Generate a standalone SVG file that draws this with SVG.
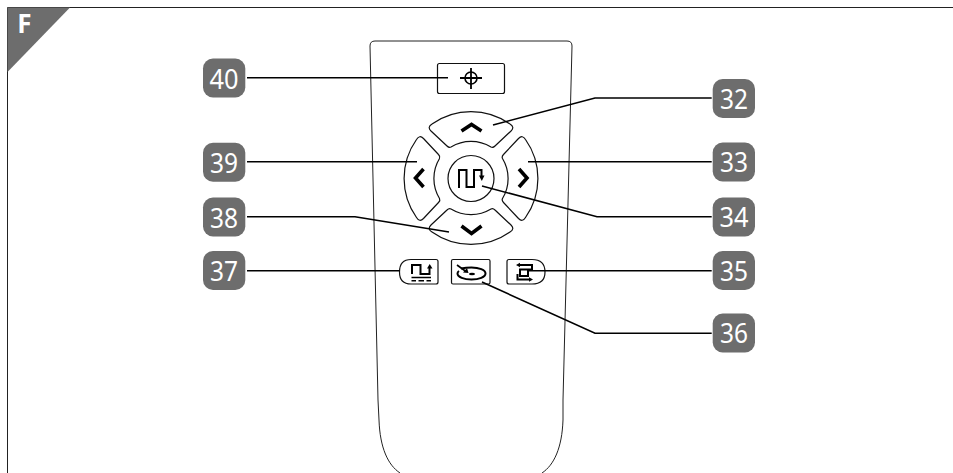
<svg xmlns="http://www.w3.org/2000/svg" width="953" height="473" viewBox="0 0 953 473">
<style>
.o{fill:none;stroke:#222;stroke-width:1}
.k{fill:none;stroke:#111;stroke-width:1.2}
.c{fill:none;stroke:#000;stroke-width:3.600;stroke-linejoin:miter}
.i{fill:none;stroke:#000;stroke-width:2}
.l{fill:none;stroke:#000;stroke-width:1.600}
.b{fill:#6d6d6d}
.t{fill:#fff;font-family:"Noto Sans","Open Sans",sans-serif;font-size:28px;font-weight:400;text-anchor:middle}
</style>
<defs>
<path id="key" d="M432 124A67.500 67.500 0 0 1 510 124Q515 127 511 131L495 146Q493 148 491 147A38.500 38.500 0 0 0 451 147Q449 148 447 146L431 131Q427 127 432 124Z" class="k"/>
</defs>
<rect width="953" height="473" fill="#fff"/>
<g id="frame">
<path d="M7.500 473V7.500H953" class="o"/>
<path d="M7.500 7.500H70L7.500 72Z" class="b"/>
<text x="24.500" y="33" font-family="Noto Sans,sans-serif" font-size="26" font-weight="700" fill="#fff" text-anchor="middle">F</text>
</g>
<g id="remote">
<path d="M370 46Q370 41 375 41H567Q572 41 572 46L563 400V420C562 448 554 465 542 473M400 473C388 465 380 448 379 420L378 400L370 46" class="o"/>
</g>
<g id="btn-crosshair">
<rect x="437.500" y="63.500" width="67" height="30" rx="2" class="k"/>
<circle cx="471" cy="78" r="6" class="i" style="stroke-width:1.600"/>
<path d="M460 78H482M471 68V89" class="i" style="stroke-width:1.800"/>
</g>
<g id="btn-up">
<use href="#key"/>
<path d="M461.500 131L471.500 124.500L481.500 131" class="c"/>
</g>
<g id="btn-down">
<use href="#key" transform="rotate(180 471 178)"/>
<path d="M461.500 226L471.500 233.500L481.500 226" class="c"/>
</g>
<g id="btn-left">
<use href="#key" transform="rotate(-90 471 178.500)"/>
<path d="M423.500 169L415.500 178L423.500 187" class="c"/>
</g>
<g id="btn-right">
<use href="#key" transform="rotate(90 471 178.500)"/>
<path d="M519 169L527 178L519 187" class="c"/>
</g>
<g id="btn-center">
<circle cx="471" cy="178.500" r="23" class="k"/>
<path d="M459 188V170H466.500V187H474V170H481.500V178" class="i"/>
<path d="M479 175.500H484.500L481.800 181Z" fill="#000"/>
</g>
<g id="btn-37">
<path d="M411 259.500H436Q438 259.500 438 261.500V282Q438 284 436 284H411Q399.500 284 399.500 272Q399.500 259.500 411 259.500Z" class="k"/>
<path d="M412 274V265H420.500V274H429.500V267" class="i"/>
<path d="M427 268.500H432.500L429.700 264Z" fill="#000"/>
<path d="M411.500 277.500H431M411.500 280.800H416M418.500 280.800H424M426.500 280.800H431" class="i" style="stroke-width:1.600"/>
</g>
<g id="btn-36">
<rect x="451.500" y="259.500" width="38.500" height="24.500" rx="1.500" class="k"/>
<path d="M461 268.500Q466 267.500 471.500 267.500C479 267.500 485.500 270 485.500 273.500C485.500 277 479 279.500 471.500 279.500C464 279.500 457.500 277 457.500 273.500Q457.500 272 459 271" class="i"/>
<ellipse cx="472" cy="274" rx="3" ry="1.300" fill="#000"/>
<path d="M457 265L466 271.500" class="i" style="stroke-width:1.600"/>
<path d="M463 272.500L468.500 273L467 268Z" fill="#000"/>
</g>
<g id="btn-35">
<path d="M509 259.500H532Q545 259.500 545 272Q545 284 532 284H509Q507 284 507 282V261.500Q507 259.500 509 259.500Z" class="k"/>
<path d="M519 265H532V269.500H520V276H528V269.500M517.500 274V279.500H530" class="i"/>
<path d="M520 262.800V267.200L516 265ZM529 277.300V281.700L533 279.500Z" fill="#000"/>
</g>
<g id="connectors">
<path d="M247 77.700H448" class="l"/>
<path d="M711.700 98H595L493 125" class="l"/>
<path d="M247 161.700H417" class="l"/>
<path d="M528 161.700H711.700" class="l"/>
<path d="M711.700 216.700H597L482 186" class="l"/>
<path d="M247 216.700H355L449 232" class="l"/>
<path d="M247 270.700H399.500" class="l"/>
<path d="M528 270.700H711.700" class="l"/>
<path d="M711.700 333.300H595L482 282" class="l"/>
</g>
<g id="n40"><rect class="b" x="203" y="58.500" width="42.300" height="39" rx="10"/><text class="t" x="224" y="88.500" textLength="29" lengthAdjust="spacingAndGlyphs">40</text></g>
<g id="n39"><rect class="b" x="203" y="142.700" width="42.300" height="39" rx="10"/><text class="t" x="224" y="172.700" textLength="28" lengthAdjust="spacingAndGlyphs">39</text></g>
<g id="n38"><rect class="b" x="203" y="197.500" width="42.300" height="39" rx="10"/><text class="t" x="224" y="227.500" textLength="28" lengthAdjust="spacingAndGlyphs">38</text></g>
<g id="n37"><rect class="b" x="203" y="251" width="42.300" height="39" rx="10"/><text class="t" x="224" y="281" textLength="28" lengthAdjust="spacingAndGlyphs">37</text></g>
<g id="n32"><rect class="b" x="712.700" y="79" width="42.300" height="39" rx="10"/><text class="t" x="734" y="108.500" textLength="28" lengthAdjust="spacingAndGlyphs">32</text></g>
<g id="n33"><rect class="b" x="712.700" y="142.500" width="42.300" height="39" rx="10"/><text class="t" x="734" y="172" textLength="28" lengthAdjust="spacingAndGlyphs">33</text></g>
<g id="n34"><rect class="b" x="712.700" y="197.500" width="42.300" height="39" rx="10"/><text class="t" x="734" y="227" textLength="29" lengthAdjust="spacingAndGlyphs">34</text></g>
<g id="n35"><rect class="b" x="712.700" y="251" width="42.300" height="39" rx="10"/><text class="t" x="734" y="280.500" textLength="28" lengthAdjust="spacingAndGlyphs">35</text></g>
<g id="n36"><rect class="b" x="712.700" y="313.500" width="42.300" height="39" rx="10"/><text class="t" x="734" y="343" textLength="28" lengthAdjust="spacingAndGlyphs">36</text></g>
</svg>
